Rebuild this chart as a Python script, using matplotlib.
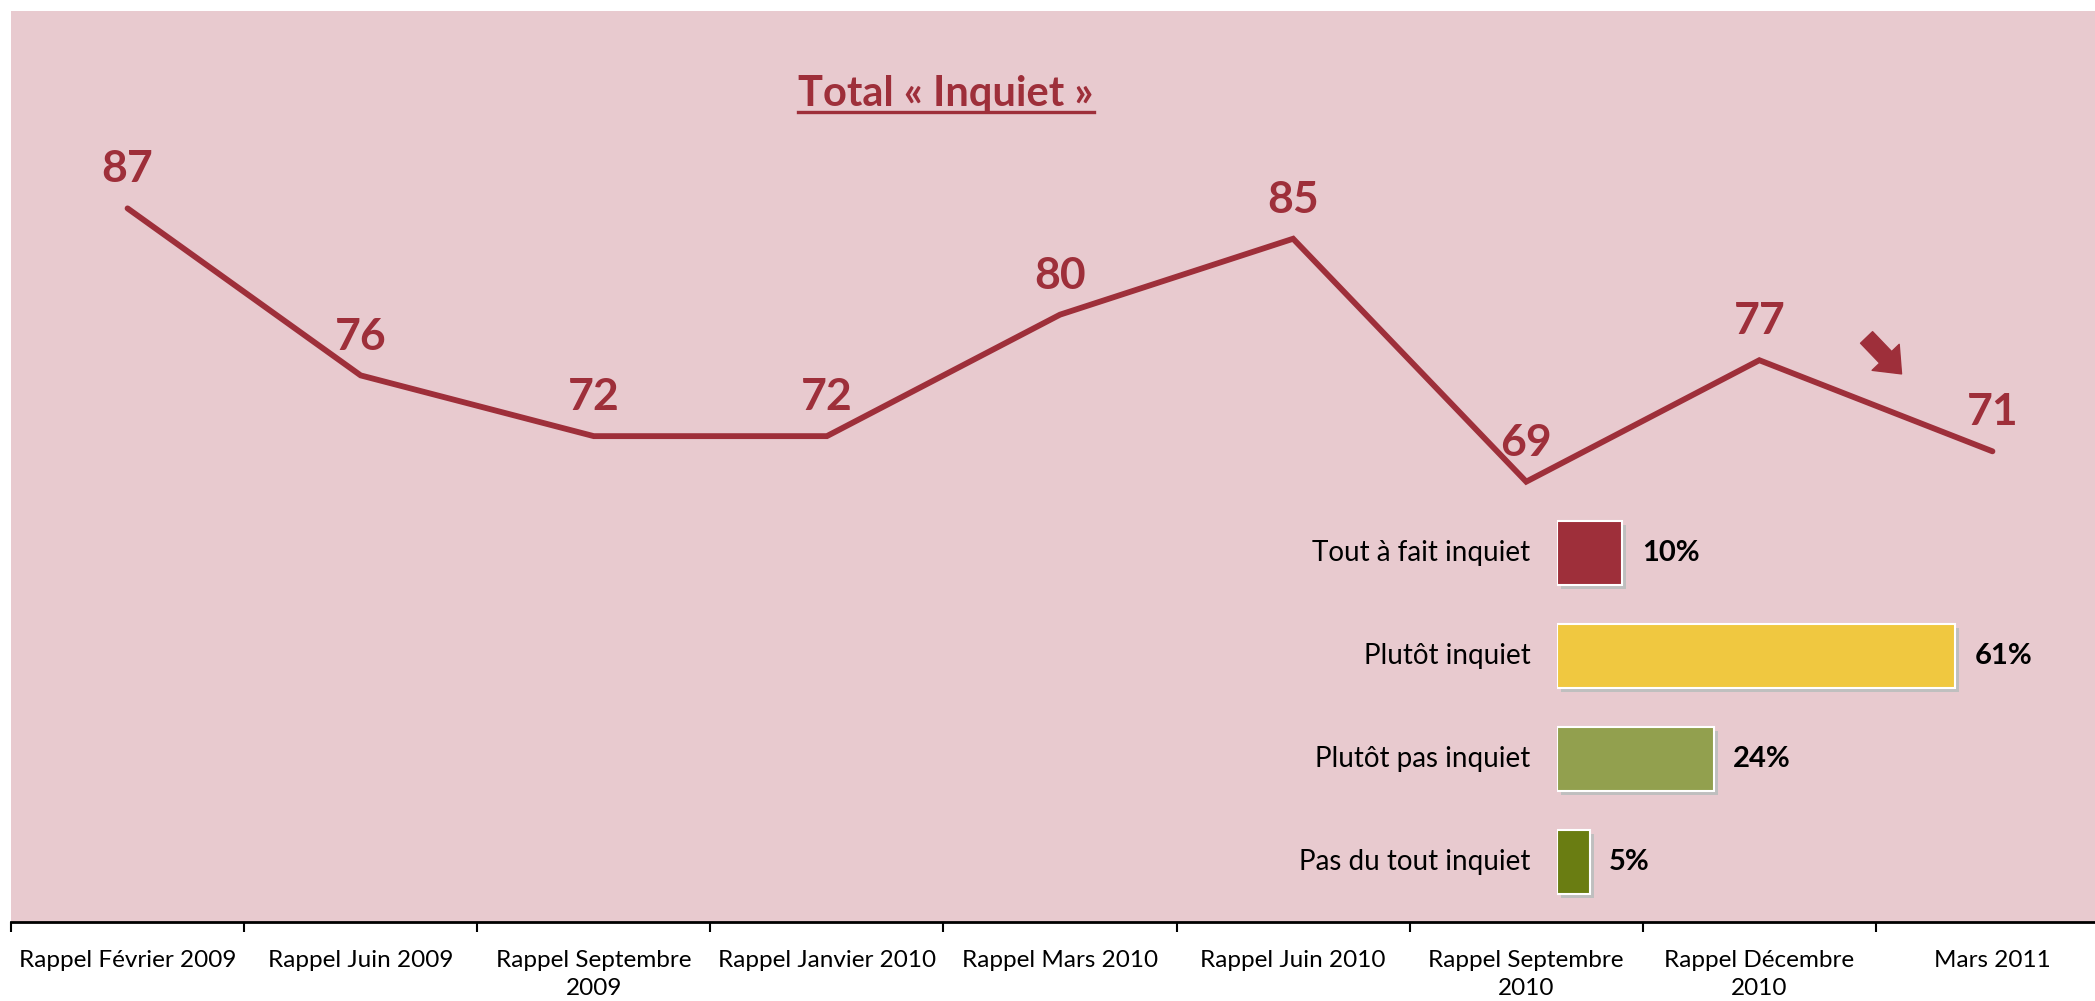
import matplotlib.pyplot as plt
import matplotlib.patheffects as pe
from matplotlib.lines import Line2D
import numpy as np

plt.rcParams['font.family'] = ['Lato', 'DejaVu Sans']

periods = ['Rappel Février 2009', 'Rappel Juin 2009', 'Rappel Septembre\n2009',
           'Rappel Janvier 2010', 'Rappel Mars 2010', 'Rappel Juin 2010',
           'Rappel Septembre\n2010', 'Rappel Décembre\n2010', 'Mars 2011']
total_inquiet = [87, 76, 72, 72, 80, 85, 69, 77, 71]

levels = ['Tout à fait inquiet', 'Plutôt inquiet', 'Plutôt pas inquiet', 'Pas du tout inquiet']
shares = [10, 61, 24, 5]
level_colors = ['#9E2F3A', '#F0C840', '#92A04E', '#6A7D12']

RED = '#9E2F3A'
PINK = '#E8CACF'
W, H = 2095, 1001

fig = plt.figure(figsize=(W / 100, H / 100), dpi=100)

# main line chart (axis runs slightly past the right edge, as in the original)
ax = fig.add_axes([11 / W, 1 - 922 / H, (2109 - 11) / W, 911 / H])
ax.set_facecolor(PINK)
x = np.arange(len(periods))
ax.plot(x, total_inquiet, color=RED, lw=4.2, solid_joinstyle='miter', solid_capstyle='round')
for i, v in enumerate(total_inquiet):
    ax.annotate(str(v), (i, v), xytext=(0, 28), textcoords='offset points',
                ha='center', va='center', fontsize=32, fontweight='bold', color=RED)

# trend arrow
ax.annotate('', xy=(7.61, 76.1), xytext=(7.46, 78.5),
            arrowprops=dict(arrowstyle='simple,head_length=0.55,head_width=0.9,tail_width=0.4',
                            color=RED, mutation_scale=30, shrinkA=0, shrinkB=0))

ax.set_xlim(-0.5, 8.5)
ax.set_ylim(40, 100)
ax.set_yticks([])
ax.set_xticks(np.arange(-0.5, 9, 1))
ax.set_xticklabels([])
ax.set_xticks(x, minor=True)
ax.set_xticklabels(periods, minor=True, fontsize=17.5, linespacing=1.45)
ax.tick_params(axis='x', which='minor', length=0, pad=20)
ax.tick_params(axis='x', which='major', length=7, width=1.5, direction='out')
for s in ['top', 'right', 'left']:
    ax.spines[s].set_visible(False)
ax.spines['bottom'].set_linewidth(2)

# title with underline
t = fig.text(946 / W, 1 - 106 / H, 'Total « Inquiet »', ha='center', va='baseline',
             fontsize=30, fontweight='bold', color=RED)
fig.canvas.draw()
bb = t.get_window_extent()
fig.add_artist(Line2D([bb.x0 / W, bb.x1 / W], [1 - 112 / H, 1 - 112 / H],
                      color=RED, lw=2.4, transform=fig.transFigure))

# inset bars
ax2 = fig.add_axes([1557 / W, 1 - 913.5 / H, 522 / W, 412 / H])
ax2.set_xlim(0, 80)
ax2.set_ylim(3.5, -0.5)
ax2.axis('off')
y = np.arange(len(levels))
ax2.barh(y, shares, height=0.62, color=level_colors, edgecolor='white', linewidth=1.5,
         path_effects=[pe.SimplePatchShadow(offset=(3, -3), shadow_rgbFace='#BFBFBF', alpha=1),
                       pe.Normal()])
for i, (lab, v) in enumerate(zip(levels, shares)):
    ax2.annotate(lab, (0, i), xytext=(-19, 0), textcoords='offset points',
                 ha='right', va='center', fontsize=20, color='black')
    ax2.annotate(f'{v}%', (v, i), xytext=(14, 0), textcoords='offset points',
                 ha='left', va='center', fontsize=21, fontweight='bold', color='black')

fig.savefig('out.png', dpi=100)
